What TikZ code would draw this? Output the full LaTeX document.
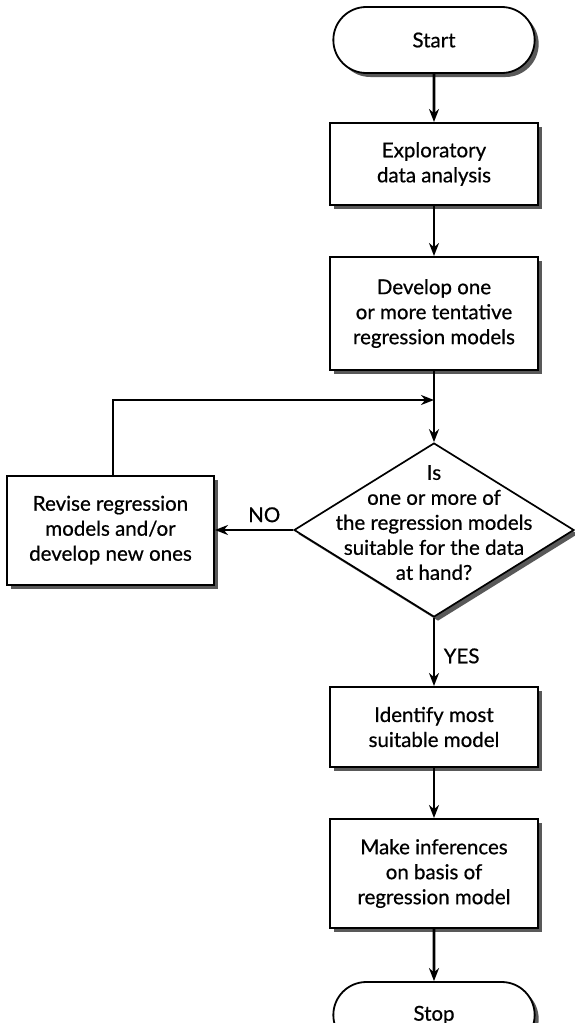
\documentclass[tikz,border=0pt]{standalone}
\usepackage{fontspec}
\setmainfont{Lato}[FakeBold=0.6]
\usetikzlibrary{shapes.geometric,shapes.misc,arrows.meta,shadows}

\begin{document}
\begin{tikzpicture}[x=1pt,y=-1pt,
  font=\fontsize{20.5}{25}\selectfont,
  shad/.style={drop shadow={shadow xshift=4pt,shadow yshift=-4pt,fill=black!65,opacity=1}},
  procbox/.style={draw, line width=2pt, fill=white, shad, minimum width=208pt, align=center, inner sep=0pt},
  term/.style={rounded rectangle, draw, line width=1.8pt, fill=white, shad, minimum width=208pt, minimum height=66pt},
  decision/.style={diamond, draw, line width=1.7pt, fill=white, shad, minimum width=280pt, minimum height=174pt, inner sep=0pt},
  conn/.style={line width=2.8pt, -{Stealth[length=13pt,width=10pt]}}
]
\useasboundingbox (0,0) rectangle (574,1023);

\node[term] (start) at (434,40) {Start};
\node[procbox, minimum height=82pt] (explore) at (434,164) {Exploratory\\data analysis};
\node[procbox, minimum height=113pt] (develop) at (434,313.5) {Develop one\\or more tentative\\regression models};
\node[decision] (dec) at (434,530) {\makebox[0pt][c]{\smash{\begin{tabular}{@{}c@{}}Is\\one or more of\\the regression models\\suitable for the data\\at hand?\end{tabular}}}};
\node[procbox, minimum width=207pt, minimum height=109pt] (revise) at (110.5,530) {Revise regression\\models and/or\\develop new ones};
\node[procbox, minimum height=80pt] (identify) at (434,727) {Identify most\\suitable model};
\node[procbox, minimum height=109pt] (infer) at (434,873.5) {Make inferences\\on basis of\\regression model};
\node[term] (stop) at (434,1015) {Stop};

\coordinate (j) at (434,400);

\draw[conn] (start) -- (explore);
\draw[conn] (explore) -- (develop);
\draw[conn] (develop) -- (dec);
\draw[conn] ([xshift=2.5pt]revise.north) |- (j);
\draw[conn] (dec.west) -- (dec.west -| revise.east) node[pos=0.37, above=3pt] {NO};
\draw[conn] (dec.south) -- (identify.north) node[midway, right=5pt, yshift=-4pt] {YES};
\draw[conn] (identify) -- (infer);
\draw[conn] (infer) -- (stop);
\end{tikzpicture}
\end{document}
